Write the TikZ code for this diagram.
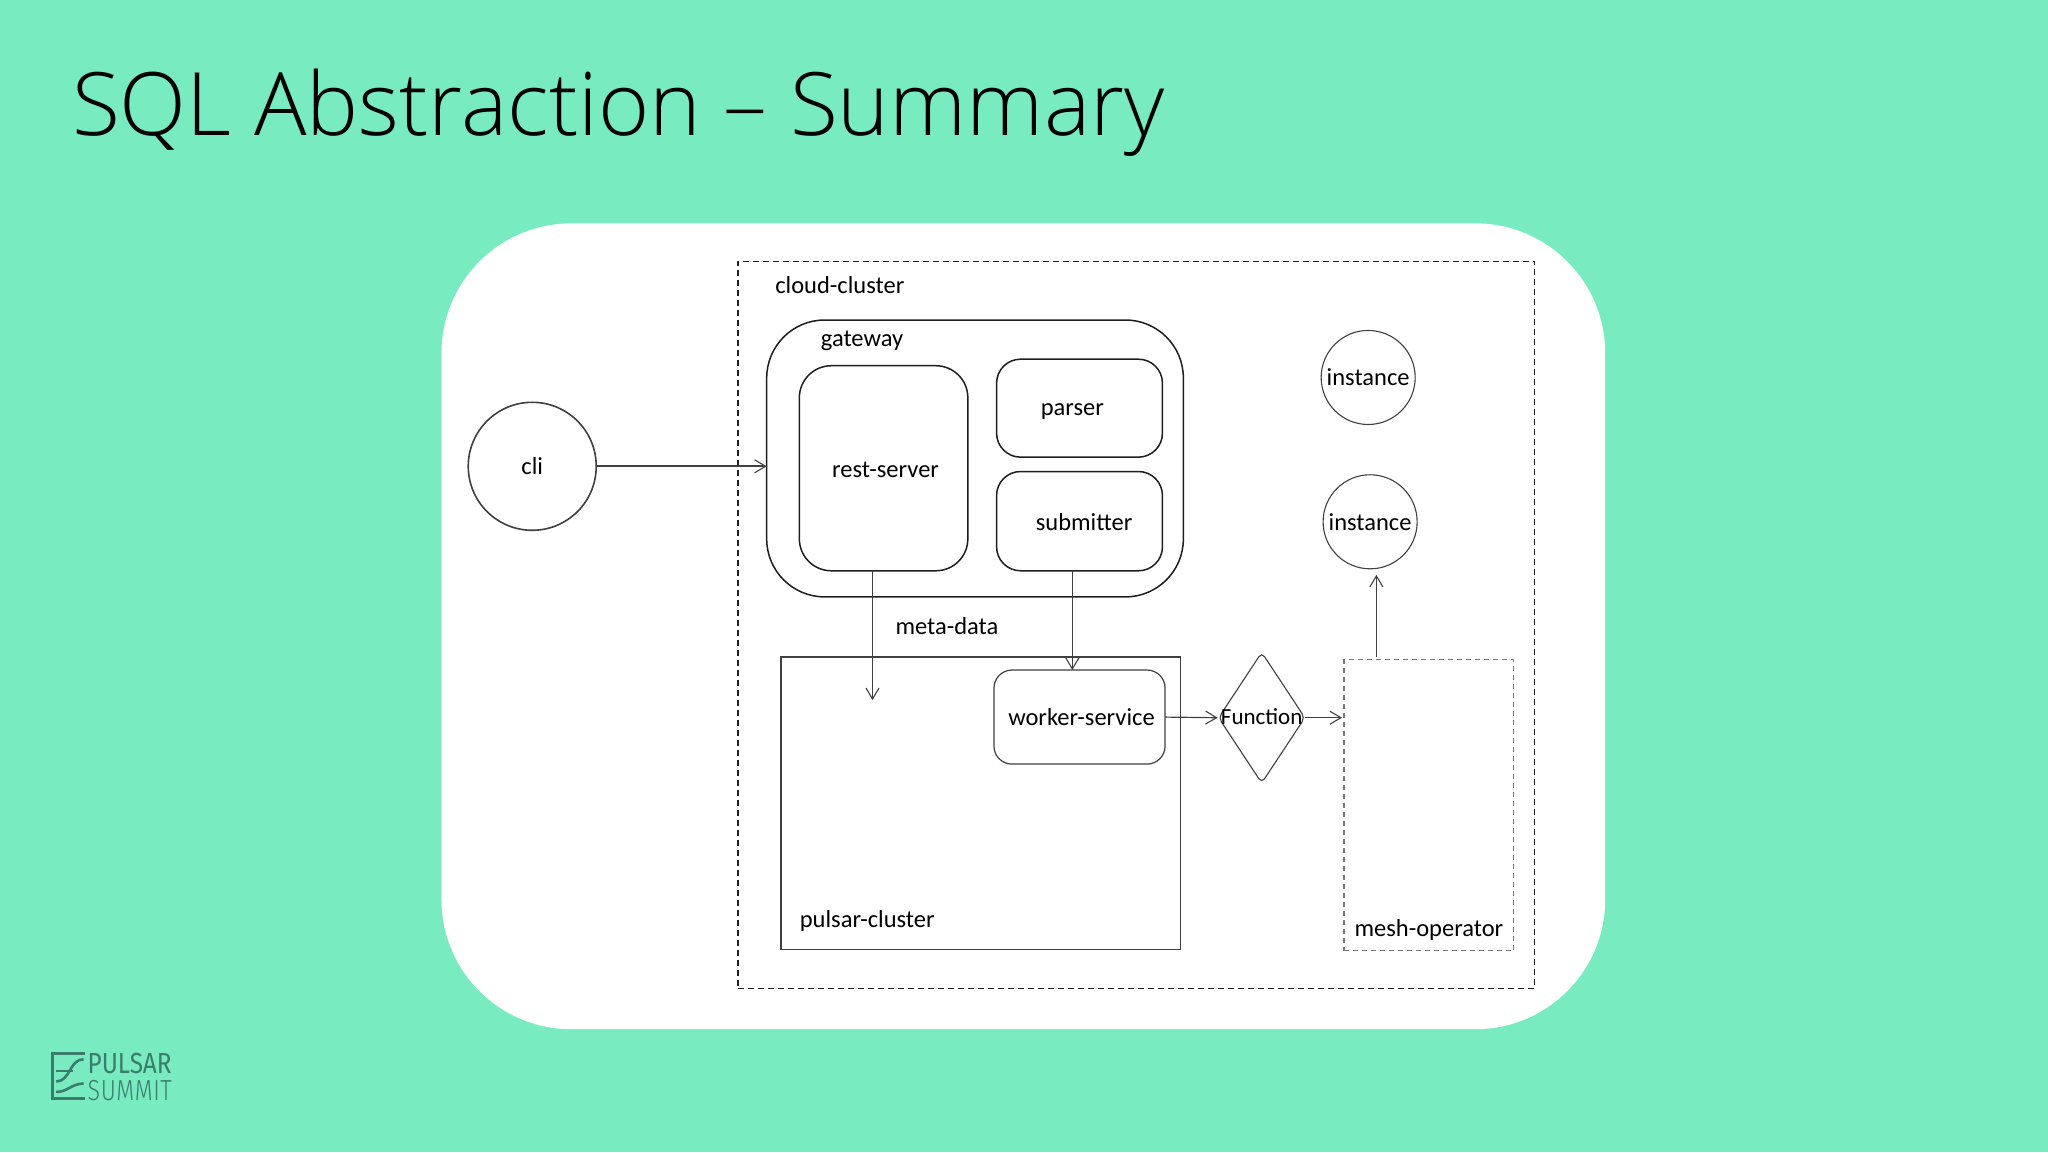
\documentclass[tikz,border=0pt]{standalone}
\usepackage{fontspec}
\setmainfont{Carlito}
\newfontfamily\titlefont{Open Sans Light}
\newfontfamily\logofont[FakeStretch=0.84]{Fira Sans}
\newfontfamily\logofontlight[FakeStretch=0.80,LetterSpace=2]{Fira Sans Light}
\usetikzlibrary{arrows.meta,shapes.geometric}
\definecolor{bgmint}{HTML}{78EBC1}
\definecolor{logogreen}{HTML}{3A7D6C}
\definecolor{inkdark}{HTML}{1E1E1E}
\tikzset{
  x=1.30612pt,y=-1.30612pt,
  hand/.style={font=\fontsize{24.5}{24.5}\selectfont,text=black},
  box/.style={draw=inkdark,line width=1.5pt,rounded corners=#1,inner sep=0pt,outer sep=0pt,hand},
  thinbox/.style={draw=inkdark!85,line width=1.2pt,rounded corners=#1,inner sep=0pt,outer sep=0pt,hand},
  ring/.style={draw=inkdark!85,line width=1.1pt,circle,inner sep=0pt,outer sep=0pt,hand},
  conn/.style={draw=inkdark!85,line width=1.2pt,-{Straight Barb[length=11pt,width=13pt,line width=1.1pt]}},
  lab/.style={hand,inner sep=0pt},
  logostroke/.style={draw=logogreen,line width=3pt,line cap=butt},
}
\begin{document}
\begin{tikzpicture}
\useasboundingbox (0,0) rectangle (1568,882);
\fill[bgmint] (0,0) rectangle (1568,882);
\fill[white,rounded corners=130pt] (338,171) rectangle (1229,788);
\node[anchor=west,inner sep=0pt,font=\titlefont\fontsize{87.5}{87.5}\selectfont,text=black] (title) at (55,86) {SQL Abstraction – Summary};

% containers
\node[draw=inkdark,line width=1.2pt,dash pattern=on 6pt off 4pt,minimum width=610*1.30612pt,minimum height=557*1.30612pt,inner sep=0pt,outer sep=0pt] (cloud) at (870,478.5) {};
\node[lab] (cloudlab) at (643,218) {cloud-cluster};
\node[box=58pt,minimum width=319*1.30612pt,minimum height=212*1.30612pt] (gateway) at (746.5,351) {};
\node[lab] (gatewaylab) at (660,261) {gateway};
\node[box=32pt,minimum width=129*1.30612pt,minimum height=157*1.30612pt] (rest) at (676.5,358.5) {};
\node[lab] (restlab) at (678,360) {rest-server};
\node[box=24pt,minimum width=127*1.30612pt,minimum height=75*1.30612pt] (parser) at (826.5,312.5) {};
\node[lab] (parserlab) at (821,315) {parser};
\node[box=24pt,minimum width=127*1.30612pt,minimum height=76*1.30612pt] (submitter) at (826.5,399) {};
\node[lab] (submitterlab) at (830,400) {submitter};
\node[ring,line width=1.6pt,minimum size=98*1.30612pt] (cli) at (407.5,357) {cli};
\node[ring,minimum size=72*1.30612pt] (inst1) at (1047.5,289) {instance};
\node[ring,minimum size=72*1.30612pt] (inst2) at (1049,399.5) {instance};
\node[lab] (metalab) at (725,479) {meta-data};
\node[draw=inkdark!85,line width=1.2pt,minimum width=306*1.30612pt,minimum height=224*1.30612pt,inner sep=0pt,outer sep=0pt] (pulsar) at (751,615) {};
\node[lab] (pulsarlab) at (664,705) {pulsar-cluster};
\node[thinbox=18pt,fill=white,minimum width=131*1.30612pt,minimum height=72*1.30612pt] (worker) at (826.5,549) {};
\node[lab] (workerlab) at (828,549) {worker-service};
\node[draw=inkdark!85,line width=1.1pt,diamond,aspect=0.66,rounded corners=5pt,minimum width=66*1.30612pt,minimum height=100*1.30612pt,inner sep=0pt,outer sep=0pt] (func) at (966,549.5) {};
\node[lab,font=\fontsize{23}{23}\selectfont] (funclab) at (966,549) {Function};
\node[draw=inkdark!60,line width=1.1pt,dash pattern=on 5pt off 4pt,minimum width=130*1.30612pt,minimum height=223*1.30612pt,inner sep=0pt,outer sep=0pt] (mesh) at (1094,616.5) {};
\node[lab] (meshlab) at (1094,712) {mesh-operator};

% connectors
\coordinate (metaend) at (668,536);
\coordinate (subx) at (821,513);
\coordinate (meshup) at (1053.8,503);
\draw[conn,line width=1.7pt] (cli.east) -- (gateway.west |- cli.east);
\draw[conn] (rest.south -| metaend) -- (metaend);
\draw[conn] (submitter.south -| subx) -- (subx);
\draw[conn] (worker.east) -- ([xshift=-1pt]func.west);
\draw[conn] (func.east) -- ([xshift=-2pt]mesh.west |- func.east);
\draw[conn,shorten >=6pt] (meshup) -- (inst2.south -| meshup);

% logo
\draw[logostroke] (65,806.5) -- (40,806.5) -- (40,841) -- (65,841);
\draw[logostroke,line width=2.6pt] (43,820) -- (56,820);
\draw[logostroke,line width=2.6pt] (43,828) .. controls (54,828) and (53,811) .. (64,811);
\draw[logostroke,line width=2.6pt] (43,836) .. controls (52,836) and (54,830) .. (64,829.5);
\node[anchor=west,inner sep=0pt,text=logogreen,font=\logofont\fontsize{29}{29}\selectfont] (logoa) at (67,814) {PULSAR};
\node[anchor=west,inner sep=0pt,text=logogreen,font=\logofontlight\fontsize{29}{29}\selectfont] (logob) at (67,835) {SUMMIT};
\end{tikzpicture}
\end{document}
